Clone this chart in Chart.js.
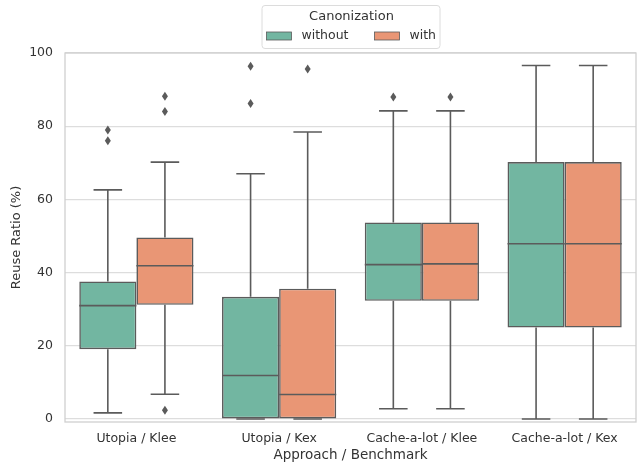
<!DOCTYPE html>
<html>
<head>
<meta charset="utf-8">
<script src="https://cdn.jsdelivr.net/npm/chart.js@4/dist/chart.umd.min.js"></script>
<style>
  html, body { margin: 0; padding: 0; background: #ffffff; }
  #wrap { width: 639px; height: 467px; position: relative; }
</style>
</head>
<body>
<div id="wrap"><canvas id="chart"></canvas></div>
<script>
// Benchmark groups on the x axis
const categories = ['Utopia / Klee', 'Utopia / Kex', 'Cache-a-lot / Klee', 'Cache-a-lot / Kex'];

// Box statistics, reuse ratio in percent — without canonization
const withoutLow      = [1.7, 0.0, 2.8, 0.0];
const withoutQ1       = [19.1, 0.0, 32.3, 25.0];
const withoutMedian   = [31.0, 11.9, 42.2, 47.9];
const withoutQ3       = [37.6, 33.4, 53.7, 70.2];
const withoutHigh     = [62.6, 67.0, 84.2, 96.6];
const withoutOutliers = [[79.0, 76.0], [96.4, 86.2], [88.0], []];

// Box statistics — with canonization
const withLow      = [6.8, 0.0, 2.8, 0.0];
const withQ1       = [31.2, 0.0, 32.3, 25.0];
const withMedian   = [41.9, 6.7, 42.4, 47.9];
const withQ3       = [49.6, 35.6, 53.7, 70.2];
const withHigh     = [70.2, 78.4, 84.2, 96.6];
const withOutliers = [[88.2, 84.0, 2.4], [95.6], [88.0], []];

const yTicks = [0, 20, 40, 60, 80, 100];

const LINE = '#5b5b5b';
const TEXT = '#333333';
const GRID = '#dddddd';
const FONT = "'DejaVu Sans', sans-serif";

function boxSeries(label, color, low, q1, med, q3, high, outliers) {
  return {
    label: label,
    data: q1.map((v, i) => [v, q3[i]]),
    backgroundColor: color,
    borderColor: LINE,
    borderWidth: 1.6,
    borderSkipped: false,
    categoryPercentage: 0.8,
    barPercentage: 1.0,
    stats: { low, med, high, outliers }
  };
}

// Whiskers, caps, medians and outlier diamonds, placed with the chart's own scales
const boxExtras = {
  id: 'boxExtras',
  afterDatasetsDraw(chart) {
    const ctx = chart.ctx;
    const y = chart.scales.y;
    ctx.save();
    ctx.strokeStyle = LINE;
    ctx.fillStyle = LINE;
    ctx.lineWidth = 1.6;
    chart.data.datasets.forEach((ds, di) => {
      const meta = chart.getDatasetMeta(di);
      meta.data.forEach((bar, i) => {
        const s = ds.stats;
        const cx = bar.x;
        const w = bar.width;
        const [q1, q3] = ds.data[i];
        const yq1 = y.getPixelForValue(q1);
        const yq3 = y.getPixelForValue(q3);
        const yLo = y.getPixelForValue(s.low[i]);
        const yHi = y.getPixelForValue(s.high[i]);
        const yMed = y.getPixelForValue(s.med[i]);
        const cap = w / 4;
        ctx.beginPath();
        // upper whisker and cap
        ctx.moveTo(cx, yq3); ctx.lineTo(cx, yHi);
        ctx.moveTo(cx - cap, yHi); ctx.lineTo(cx + cap, yHi);
        // lower whisker and cap
        ctx.moveTo(cx, yq1); ctx.lineTo(cx, yLo);
        ctx.moveTo(cx - cap, yLo); ctx.lineTo(cx + cap, yLo);
        // median
        ctx.moveTo(cx - w / 2, yMed); ctx.lineTo(cx + w / 2, yMed);
        ctx.stroke();
        // outliers as thin diamonds
        s.outliers[i].forEach(v => {
          const py = y.getPixelForValue(v);
          ctx.beginPath();
          ctx.moveTo(cx, py - 4.5);
          ctx.lineTo(cx + 3, py);
          ctx.lineTo(cx, py + 4.5);
          ctx.lineTo(cx - 3, py);
          ctx.closePath();
          ctx.fill();
        });
      });
    });
    ctx.restore();
  }
};

// Light frame around the plotting area
const frame = {
  id: 'frame',
  beforeDatasetsDraw(chart) {
    const { ctx, chartArea: a } = chart;
    ctx.save();
    ctx.strokeStyle = '#d0d0d0';
    ctx.lineWidth = 1.3;
    ctx.strokeRect(a.left, a.top, a.right - a.left, a.bottom - a.top);
    ctx.restore();
  }
};

// Legend box with title, above the plot
const legendBox = {
  id: 'legendBox',
  afterDraw(chart) {
    const ctx = chart.ctx;
    const a = chart.chartArea;
    const cx = (a.left + a.right) / 2;
    const bw = 178, bh = 43;
    const bx = cx - bw / 2, by = 5;
    ctx.save();
    ctx.fillStyle = 'rgba(255,255,255,0.85)';
    ctx.strokeStyle = '#dcdcdc';
    ctx.lineWidth = 1;
    ctx.beginPath();
    ctx.roundRect(bx + 0.5, by + 0.5, bw, bh, 3);
    ctx.fill();
    ctx.stroke();
    ctx.fillStyle = TEXT;
    ctx.textAlign = 'center';
    ctx.textBaseline = 'middle';
    ctx.font = "13px " + FONT;
    ctx.fillText('Canonization', cx + 1, by + 12);
    ctx.font = "12.5px " + FONT;
    ctx.textAlign = 'left';
    let x = bx + 5;
    const iy = by + 31;
    chart.data.datasets.forEach((ds, di) => {
      ctx.fillStyle = ds.backgroundColor;
      ctx.fillRect(x, iy - 4, 25, 8);
      ctx.strokeStyle = LINE;
      ctx.lineWidth = 0.8;
      ctx.strokeRect(x, iy - 4, 25, 8);
      ctx.fillStyle = TEXT;
      ctx.fillText(ds.label, x + 35, iy);
      x += 35 + ctx.measureText(ds.label).width + 26;
    });
    ctx.restore();
  }
};

new Chart(document.getElementById('chart'), {
  type: 'bar',
  data: {
    labels: categories,
    datasets: [
      boxSeries('without', '#72b6a1', withoutLow, withoutQ1, withoutMedian, withoutQ3, withoutHigh, withoutOutliers),
      boxSeries('with', '#e99675', withLow, withQ1, withMedian, withQ3, withHigh, withOutliers)
    ]
  },
  options: {
    responsive: true,
    maintainAspectRatio: false,
    animation: false,
    layout: { padding: { top: 53, right: 3, left: 0, bottom: 0 } },
    plugins: { legend: { display: false }, tooltip: { enabled: false } },
    scales: {
      x: {
        grid: { display: false, drawTicks: false },
        border: { display: false },
        ticks: { color: TEXT, font: { family: FONT, size: 12.5 }, padding: 9, maxRotation: 0 },
        title: { display: true, text: 'Approach / Benchmark', color: TEXT, font: { family: FONT, size: 13.5 }, padding: { top: 0, bottom: 3 } },
        afterFit(scale) { scale.height = 45; }
      },
      y: {
        min: -0.8,
        max: 100,
        grid: { color: GRID, lineWidth: 1.3, drawTicks: false },
        border: { display: false },
        ticks: { color: TEXT, font: { family: FONT, size: 12.5 }, padding: 12 },
        afterBuildTicks(scale) { scale.ticks = yTicks.map(v => ({ value: v })); },
        title: { display: true, text: 'Reuse Ratio (%)', color: TEXT, font: { family: FONT, size: 13 }, padding: { top: 9, bottom: 0 } },
        afterFit(scale) { scale.width = 65; }
      }
    }
  },
  plugins: [frame, boxExtras, legendBox]
});
</script>
</body>
</html>
